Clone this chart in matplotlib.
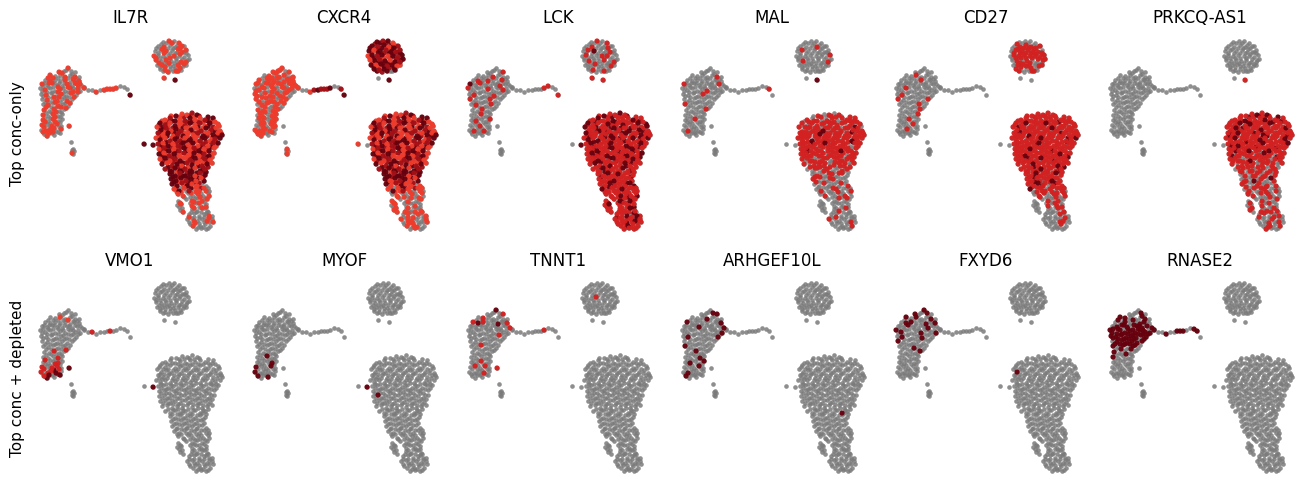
import numpy as np
import matplotlib
matplotlib.use("Agg")
import matplotlib.pyplot as plt

# Embedding coordinates, by cluster
top_cluster = [(163,42),(169,41),(174,41),(179,43),(184,46),(158,46),(164,47),(170,45),(175,47),(180,48),(186,50),(155,51),(160,50),(166,51),(172,50),(177,52),(182,52),(188,55),(154,56),(158,55),(163,56),(168,55),(174,56),(179,56),(184,57),(189,59),(156,60),(161,61),(166,60),(171,61),(176,60),(181,62),(186,62),(157,65),(162,65),(167,64),(173,66),(178,65),(183,66),(160,69),(165,70),(170,69),(176,71),(181,70),(164,78),(175,80)]
left_cluster = [(64,71),(68,68),(71,71),(59,72),(75,72),(50,75),(55,76),(60,75),(65,77),(70,75),(75,77),(79,77),(45,80),(50,81),(55,80),(60,81),(65,80),(70,82),(74,80),(79,81),(42,84),(47,85),(52,83),(57,85),(62,86),(67,84),(72,86),(77,84),(82,86),(40,88),(45,90),(50,88),(55,91),(60,89),(65,91),(70,88),(75,90),(80,91),(84,88),(41,94),(46,95),(51,93),(56,96),(61,94),(66,96),(71,93),(76,95),(42,99),(47,100),(52,98),(57,101),(62,99),(67,101),(72,99),(43,104),(48,105),(53,103),(58,106),(63,104),(68,106),(44,110),(49,111),(54,109),(59,111),(64,109),(43,115),(48,116),(53,114),(58,116),(62,114),(43,120),(48,121),(53,119),(58,121),(62,119),(42,125),(47,124),(52,126),(57,124),(61,126),(69,126),(41,130),(46,131),(51,129),(56,131),(61,129),(44,134),(49,133),(54,135),(60,133)]
tail = [(84,87),(88,90),(92,90),(96,92),(100,90),(104,90),(107,89),(110,89),(113,89),(116,88),(120,86),(124,87),(127,89),(130,95)]
clump = [(71,142),(73,149),(74,151),(72,153),(73,154),(72,150)]
big_cluster = [(144,144),(153,145),
(176,116),(182,114),(187,115),(192,113),(197,115),
(165,120),(170,118),(175,121),(180,119),(185,121),(190,118),(195,120),(200,118),(205,120),(213,118),
(160,123),(165,125),(170,123),(175,126),(180,124),(185,126),(190,123),(195,125),(200,123),(205,126),(210,123),(215,122),
(157,127),(161,130),(166,128),(171,131),(176,129),(181,131),(186,128),(191,130),(196,128),(201,131),(206,128),(211,130),(216,128),(219,126),
(158,133),(163,135),(168,133),(173,136),(178,134),(183,136),(188,133),(193,135),(198,133),(203,136),(208,133),(213,135),(218,133),
(156,138),(160,140),(165,138),(170,141),(175,139),(180,141),(185,138),(190,140),(195,138),(200,141),(205,138),(210,141),(215,139),(220,138),(222,135),
(158,144),(163,143),(168,146),(173,144),(178,146),(183,143),(188,145),(193,143),(198,146),(203,144),(208,146),(213,143),(218,143),
(159,149),(164,148),(169,151),(174,149),(179,151),(184,148),(189,150),(194,148),(199,151),(204,149),(209,151),(214,148),
(159,154),(164,153),(169,156),(174,154),(179,156),(184,153),(189,155),(194,153),(199,156),(204,154),(209,156),(214,153),
(160,159),(165,158),(170,161),(175,159),(180,161),(185,158),(190,160),(195,158),(200,161),(205,159),(210,160),
(162,164),(167,163),(172,166),(177,164),(182,166),(187,163),(192,165),(197,163),(202,166),(207,164),(212,163),
(165,169),(170,171),(175,168),(180,171),(185,169),(190,171),(195,168),(200,171),(205,169),
(170,174),(175,176),(180,173),(185,176),(190,174),(195,176),(200,173),(205,175),
(171,179),(176,181),(181,178),(186,181),(191,179),(196,181),(201,178),
(172,184),(177,186),(182,183),(187,186),(192,184),(197,186),(202,183),
(174,189),(179,191),(184,188),(189,191),(194,189),(199,191),(204,188),(208,188),
(178,194),(183,196),(188,193),(193,196),(198,194),(203,196),(208,193),
(178,201),(186,199),(192,201),(197,198),(202,201),(207,199),
(177,205),(181,204),(192,206),(196,203),(201,206),(206,204),
(180,210),(183,212),(192,209),(197,211),(202,208),(207,211),
(189,214),(194,213),(199,216),(204,214),(209,216),
(187,219),(192,218),(197,221),(202,219),(207,221),(212,219),
(190,224),(195,223),(200,226),(205,224),(210,226),(213,222),
(196,229),(201,228),(206,229)]

# Second batch of cells, lying between those above
top_more = [(166,43),(172,43),(177,45),(182,46),(161,44),(156,48),(162,49),(168,48),(173,48),(178,49),(184,52),(158,53),(164,53),(170,53),(175,53),(180,54),(186,53),(156,58),(160,58),(165,58),(170,58),(176,58),(182,59),(187,60),(159,63),(164,63),(169,63),(174,63),(179,63),(184,64),(160,67),(165,67),(170,66),(175,68),(180,68),(186,65),(163,71),(168,72),(173,71),(178,71)]
left_more = [(66,70),(62,73),(72,74),(53,78),(58,78),(63,78),(68,78),(73,79),(77,79),(48,78),(44,83),(49,83),(54,83),(59,83),(64,83),(69,84),(75,83),(80,84),(43,87),(48,87),(53,87),(58,87),(63,88),(68,87),(73,88),(78,88),(42,91),(47,92),(52,92),(58,92),(63,93),(68,92),(73,92),(78,92),(43,96),(48,97),(54,97),(59,97),(64,97),(69,97),(74,97),(45,102),(50,102),(55,102),(60,102),(65,103),(70,103),(46,107),(51,107),(56,107),(61,107),(66,108),(46,113),(51,112),(56,112),(61,112),(45,118),(50,118),(55,117),(60,117),(45,122),(50,123),(55,122),(60,122),(44,127),(49,127),(54,128),(59,127),(43,132),(48,131),(53,132),(58,132),(47,136),(52,133)]
big_more = [(171,116),(179,117),(184,117),(189,116),(194,117),(199,116),(208,117),
(162,121),(167,122),(172,121),(178,122),(182,123),(187,122),(192,122),(198,122),(203,122),(208,121),(212,121),
(159,125),(163,127),(168,127),(173,128),(178,127),(183,128),(188,126),(193,128),(198,127),(203,128),(208,126),(213,127),(218,124),
(160,132),(164,132),(169,131),(174,133),(179,132),(184,133),(189,131),(194,133),(199,131),(205,133),(210,132),(215,131),(220,131),
(159,136),(162,137),(167,136),(172,138),(177,137),(182,138),(187,136),(192,138),(197,136),(202,138),(207,136),(212,138),(217,136),(221,133),
(161,142),(166,142),(171,143),(176,142),(181,143),(186,141),(191,143),(196,141),(201,143),(206,142),(211,142),(216,142),
(161,146),(166,147),(171,147),(176,148),(181,147),(186,147),(191,147),(196,148),(201,147),(206,148),(211,147),(216,146),
(161,151),(166,151),(171,153),(176,151),(181,153),(186,151),(191,152),(196,151),(201,153),(206,151),(211,153),
(162,156),(167,156),(172,158),(177,156),(182,158),(187,156),(192,157),(197,156),(202,158),(207,157),(212,157),
(163,161),(168,161),(173,162),(178,162),(183,163),(188,161),(193,162),(198,161),(203,163),(208,162),
(168,167),(173,168),(178,167),(183,168),(188,167),(193,168),(198,166),(203,168),(208,167),
(172,172),(177,172),(182,171),(187,173),(192,172),(197,173),(202,171),(206,172),
(173,177),(178,177),(183,176),(188,178),(193,177),(198,178),(203,177),
(174,182),(179,182),(184,181),(189,183),(194,182),(199,183),(204,181),
(176,187),(181,187),(186,186),(191,188),(196,187),(201,188),(206,186),
(177,192),(181,192),(186,191),(191,193),(196,192),(201,193),(206,191),(209,191),
(184,197),(190,197),(195,198),(200,197),(205,198),(209,196),
(180,203),(190,203),(194,202),(199,203),(204,202),
(179,207),(182,208),(194,208),(199,207),(204,208),(206,207),
(191,212),(196,212),(201,212),(206,213),(208,212),
(189,217),(194,217),(199,218),(204,217),(209,218),(212,216),
(189,222),(194,221),(199,223),(204,222),(209,222),
(193,226),(198,227),(203,227),(208,228)]

genes_top = ["IL7R","CXCR4","LCK","MAL","CD27","PRKCQ-AS1"]
genes_bottom = ["VMO1","MYOF","TNNT1","ARHGEF10L","FXYD6","RNASE2"]
row_labels = ["Top conc-only","Top conc + depleted"]
dense_in_top = ["IL7R","CXCR4","CD27"]
dense_in_left = ["IL7R","CXCR4","VMO1","RNASE2"]

# Expression level per point, in cluster order (top, left, tail, clump, big); 0 = none
il7r = ["0101001001100100101000100010100110100100101014",
"0101010010100100100110100101001001010010100101001010100101001010010100101001011010110101",
"00010111110004","000100",
"44" "41134" "1341341134" "431413413141" "14314314134311" "3141341134141" "141343141341344" "3141341413134" "134134134141" "413413141341" "14134134131" "41341341341" "344434143" "44344134" "4443411" "4434110" "1413011" "01100100" "0010110" "110000" "100100" "000100" "00100" "100010" "001100" "100"]
cxcr4 = ["4341343414341434341434143414341434143414340404",
"1101101011011011010110110101101101011011011011010110110110101101101011010110101101111011",
"00013433340034","010010",
"10" "41134" "1341341134" "431413413141" "14314314134311" "3141341134141" "141343141341344" "3141341413134" "134134134141" "413413141341" "14134134131" "41341341341" "344434143" "44344134" "4143411" "4134110" "1413101" "10100101" "1001010" "100101" "100010" "101010" "10010" "110010" "101001" "101"]
lck = ["0202002002002400200200220002002020020020202022",
"0000200020000202002040200020020002002000200020020002000200200020000200020020020000202000",
"00000000022002","000000",
"04" "42242" "2422422242" "422242242242" "42242242242424" "4222242242242" "242422422242242" "2422242242242" "224224222422" "242242224224" "22422422242" "24224224222" "224222422" "22424222" "2224222" "2242224" "4222422" "22224222" "2242422" "422222" "222422" "240422" "22422" "242222" "224222" "220"]
mal = ["0000000020002000020000000002000020000000000004",
"0000000000200000000020000002000000200000000200000000002000000000200000002000000000200000",
"00000000000020","000000",
"00" "20202" "2020220222" "202220222022" "20222422202220" "2222422222022" "222422222224222" "2222242222022" "222220224222" "222220222022" "22202202222" "20222022202" "002020022" "02002020" "2000200" "0020000" "0200200" "00200020" "0002000" "000000" "002000" "000020" "00000" "000200" "000000" "000"]
cd27 = ["0000202222002222220222222202020000222022002000",
"0000000200000000200000000000000200000000200000020000020000200000200002002000002000020000",
"00000000000000","000000",
"00" "22222" "2222222222" "224222422222" "22222222422222" "2224222222222" "222222422222242" "2222242222222" "222422222222" "224222222422" "22222422222" "22242222422" "222242222" "22422242" "2220242" "2242022" "4022202" "20220202" "0020200" "020200" "000200" "002000" "00200" "002000" "000200" "000"]
prkcq = ["0000000000000000000000000000000000000000000002",
"0000000000000000000000000000000000000000000000000000000000000000000000000000000000000000",
"00000000000000","000000",
"00" "22424" "2242224222" "224242224222" "22422224222242" "2242222422222" "224222242222422" "2242222422224" "222242224222" "202220242022" "22204222022" "20222022202" "020202022" "02020202" "0200204" "2002020" "0220200" "02200200" "0020020" "020002" "002020" "200200" "02000" "020202" "002200" "020"]
vmo1 = ["", "0000000100000000000000000000000000000000000000000000000000000020000020000202022042024024044",
"00200002000000","000000","04"]
myof = ["", "0000000000000000000000000000000000000000000000000000000000000000000400000404004004000040400",
"","","04" + "0"*95 + "4"]
tnnt1 = ["0000000000000000000002000000000000000000000000",
"0400202000002420040200000000200000000000000002000000000020000000000000002000202020002000",
"00000000020000","000000",""]
arhgef = ["", "0040400040004000000400040000400000000400400000400000004000000040000040040040004000400040",
"","","0"*137 + "4"]
fxyd6 = ["", "0444040400400440040400400040044000400400400040040000000004000000400000000000000000000000",
"","","0"*30 + "4"]
rnase2 = ["", "0040044000400040044004440444440444444444444444404444444040404000040000000000000000000000",
"00040044400440","000000",""]

reds = {"1": "#ef3b2c", "2": "#d42020", "3": "#a50f15", "4": "#67000d"}

clusters = [top_cluster, left_cluster, tail, clump, big_cluster]
xy = np.array(sum(clusters, []), dtype=float)
more_xy = np.array(top_more + left_more + big_more, dtype=float)
all_xy = np.vstack([xy, more_xy])

def expand(parts):
    return [part[:len(cl)].ljust(len(cl), "0") for part, cl in zip(parts, clusters)]

def more_levels(parts, name, fill_big):
    # the second batch takes the level read for the cell at the same place in its cluster
    t, l, _, _, b = parts
    t = t[:44]; b = b[2:]
    out = ""
    if name in dense_in_top:
        out += "".join(t[(i*len(t))//len(top_more)] for i in range(len(top_more)))
    else:
        out += "0"*len(top_more)
    if name in dense_in_left:
        out += "".join(l[(i*len(l))//len(left_more)] for i in range(len(left_more)))
    else:
        out += "0"*len(left_more)
    if fill_big:
        out += "".join(b[min(len(b)-1, (i*len(b))//len(big_more)+1)] for i in range(len(big_more)))
    else:
        out += "0"*len(big_more)
    return out

W, H = 1309, 490
fig = plt.figure(figsize=(W/100, H/100), dpi=100)

def panel(col, row, name, levels):
    x0 = 32 + 214*col
    y0 = 30 + 242*row
    ax = fig.add_axes([x0/W, 1-(y0+206)/H, 196/W, 206/H])
    ax.set_xlim(32, 228); ax.set_ylim(236, 30)
    ax.set_axis_off()
    ax.scatter(all_xy[:,0], all_xy[:,1], s=11, c="#7a7a7a", alpha=0.85, linewidths=0)
    parts = expand(levels)
    codes = more_levels(parts, name, row == 0) + "".join(parts)
    pts = np.vstack([more_xy, xy])
    idx = [i for i, c in enumerate(codes) if c != "0"]
    if idx:
        ax.scatter(pts[idx,0], pts[idx,1], s=14, c=[reds[codes[i]] for i in idx], linewidths=0, alpha=0.95)
    ax.set_title(name, fontsize=12, pad=5 - row)
    return ax

top_levels = [il7r, cxcr4, lck, mal, cd27, prkcq]
bottom_levels = [vmo1, myof, tnnt1, arhgef, fxyd6, rnase2]
for c, (g, l) in enumerate(zip(genes_top, top_levels)):
    panel(c, 0, g, l)
for c, (g, l) in enumerate(zip(genes_bottom, bottom_levels)):
    panel(c, 1, g, l)

fig.text(18/W, 1-134/H, row_labels[0], rotation=90, ha="center", va="center", fontsize=11)
fig.text(18/W, 1-378/H, row_labels[1], rotation=90, ha="center", va="center", fontsize=11)
fig.savefig("out.png", dpi=100)
